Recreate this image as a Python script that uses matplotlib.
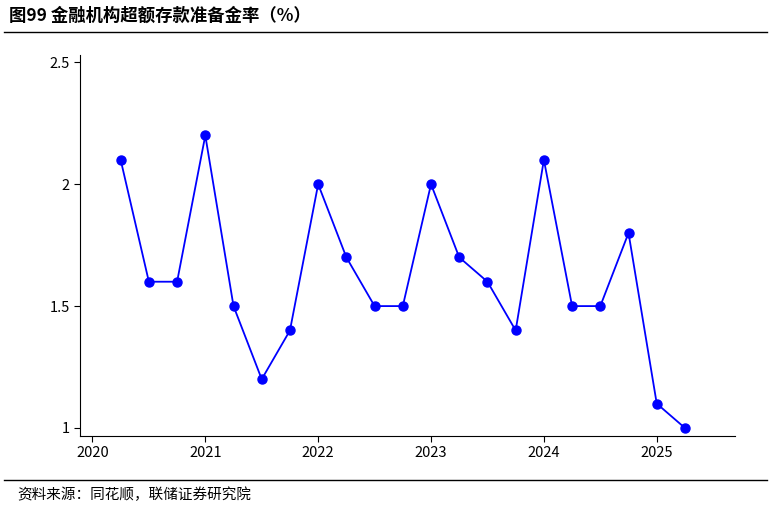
import matplotlib
matplotlib.use('Agg')
import matplotlib.pyplot as plt
from matplotlib.lines import Line2D

plt.rcParams['font.family'] = ['Noto Sans CJK SC', 'DejaVu Sans']

# quarterly, 2020Q1 .. 2025Q1 (plotted at quarter ends)
dates = [2020.25 + 0.25 * i for i in range(21)]
ratio = [2.1, 1.6, 1.6, 2.2, 1.5, 1.2, 1.4, 2.0, 1.7, 1.5, 1.5,
         2.0, 1.7, 1.6, 1.4, 2.1, 1.5, 1.5, 1.8, 1.1, 1.0]
xticks = [2020, 2021, 2022, 2023, 2024, 2025]
yticks = [1, 1.5, 2, 2.5]
ytick_labels = ['1', '1.5', '2', '2.5']

fig = plt.figure(figsize=(7.71, 5.07), dpi=100)
ax = fig.add_axes([0.1038, 0.140, 0.849, 0.7515])
ax.plot(dates, ratio, color='#0000ff', lw=1.3, marker='o', ms=6.5)
ax.set_xlim(2019.89, 2025.69)
ax.set_ylim(0.967, 2.53)
ax.set_xticks(xticks)
ax.set_xticklabels([str(x) for x in xticks])
ax.set_yticks(yticks)
ax.set_yticklabels(ytick_labels)
ax.tick_params(labelsize=10.5, length=4)
for s in ['top', 'right']:
    ax.spines[s].set_visible(False)

fig.text(0.012, 0.968, '图99 金融机构超额存款准备金率（%）', fontsize=12.5,
         fontweight='bold', va='center', ha='left')
fig.add_artist(Line2D([0.005, 0.995], [0.937, 0.937], color='black', lw=1))
fig.add_artist(Line2D([0.005, 0.995], [0.053, 0.053], color='black', lw=1))
fig.text(0.022, 0.025, '资料来源：同花顺，联储证券研究院', fontsize=10.5,
         va='center', ha='left')

fig.savefig('out.png', dpi=100)
